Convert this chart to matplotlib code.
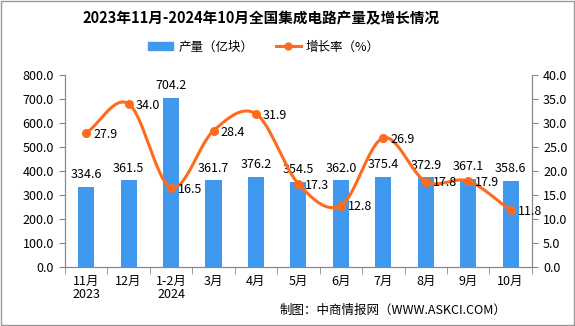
import numpy as np
import matplotlib
matplotlib.use("Agg")
import matplotlib.pyplot as plt
from matplotlib.patches import Rectangle
from matplotlib.lines import Line2D

plt.rcParams['font.family'] = ['Noto Sans CJK SC', 'DejaVu Sans']

categories = ["11月\n2023", "12月", "1-2月\n2024", "3月", "4月", "5月", "6月", "7月", "8月", "9月", "10月"]
output = [334.6, 361.5, 704.2, 361.7, 376.2, 354.5, 362.0, 375.4, 372.9, 367.1, 358.6]
growth = [27.9, 34.0, 16.5, 28.4, 31.9, 17.3, 12.8, 26.9, 17.8, 17.9, 11.8]

bar_color = "#4099ee"
line_color = "#ff6a1c"
FS = 9

fig = plt.figure(figsize=(5.75, 3.26), dpi=100)
ax = fig.add_axes([0.113, 0.181, 0.812, 0.589])
ax2 = ax.twinx()

x = np.arange(len(categories))
ax.bar(x, output, width=0.38, color=bar_color, zorder=2)
for xi, v in zip(x, output):
    ax.annotate(f"{v:.1f}", (xi, v), xytext=(0, 4), textcoords="offset points",
                ha="center", va="bottom", fontsize=FS, color="black")

# smooth curve (Catmull-Rom through the data points)
def catmull(xs, ys, n=30):
    xs = np.asarray(xs, float); ys = np.asarray(ys, float)
    px = np.concatenate([[2*xs[0]-xs[1]], xs, [2*xs[-1]-xs[-2]]])
    py = np.concatenate([[2*ys[0]-ys[1]], ys, [2*ys[-1]-ys[-2]]])
    ox, oy = [], []
    for i in range(1, len(px)-2):
        t = np.linspace(0, 1, n, endpoint=False)
        for arr, out in ((px, ox), (py, oy)):
            p0, p1, p2, p3 = arr[i-1], arr[i], arr[i+1], arr[i+2]
            m1 = (p2 - p0) / 2; m2 = (p3 - p1) / 2
            h00 = 2*t**3 - 3*t**2 + 1; h10 = t**3 - 2*t**2 + t
            h01 = -2*t**3 + 3*t**2; h11 = t**3 - t**2
            out.extend(h00*p1 + h10*m1 + h01*p2 + h11*m2)
    ox.append(xs[-1]); oy.append(ys[-1])
    return np.array(ox), np.array(oy)

sx, sy = catmull(x, growth)
ax2.plot(sx, sy, color=line_color, lw=2.2, zorder=3)
ax2.plot(x, growth, 'o', color=line_color, ms=5.5, zorder=4)
for xi, v in zip(x, growth):
    ax2.annotate(f"{v:.1f}", (xi, v), xytext=(5, -1), textcoords="offset points",
                 ha="left", va="center", fontsize=FS, color="black")

ax.set_xlim(-0.5, len(categories)-0.5)
ax.set_ylim(0, 800)
ax2.set_ylim(0, 40)
ax.set_yticks(np.arange(0, 801, 100))
ax.set_yticklabels([f"{v:.1f}" for v in np.arange(0, 801, 100)], fontsize=FS)
ax2.set_yticks(np.arange(0, 41, 5))
ax2.set_yticklabels([f"{v:.1f}" for v in np.arange(0, 41, 5)], fontsize=FS)
ax.set_xticks(x)
ax.set_xticklabels(categories, fontsize=FS, linespacing=1.0)
ax.tick_params(axis='x', length=0, pad=6)
ax.set_xticks(np.arange(-0.5, len(categories), 1), minor=True)
ax.tick_params(axis='x', which='minor', length=5, color="#888888")
ax.tick_params(axis='y', length=4, color="#888888", pad=4)
ax2.tick_params(axis='y', length=4, color="#888888", pad=4)

for a in (ax, ax2):
    a.spines["top"].set_visible(False)
    for s in ("left", "right", "bottom"):
        a.spines[s].set_color("#888888")

fig.text(0.454, 0.945, "2023年11月-2024年10月全国集成电路产量及增长情况",
         ha="center", va="center", fontsize=10.5, fontweight="bold")

handles = [Rectangle((0, 0), 1, 1, color=bar_color),
           Line2D([0], [0], color=line_color, lw=2.2, marker='o', ms=5)]
fig.legend(handles, ["产量（亿块）", "增长率（%）"], loc="center", bbox_to_anchor=(0.459, 0.856),
           ncol=2, frameon=False, fontsize=FS, handlelength=2.0, columnspacing=1.8,
           handletextpad=0.4)

fig.text(0.88, 0.048, "制图：中商情报网（WWW.ASKCI.COM）", ha="right", va="center", fontsize=FS)

fig.patches.append(Rectangle((0.001, 0.002), 0.997, 0.995, transform=fig.transFigure,
                             fill=False, edgecolor="#999999", lw=1))

fig.savefig("out.png", dpi=100)
